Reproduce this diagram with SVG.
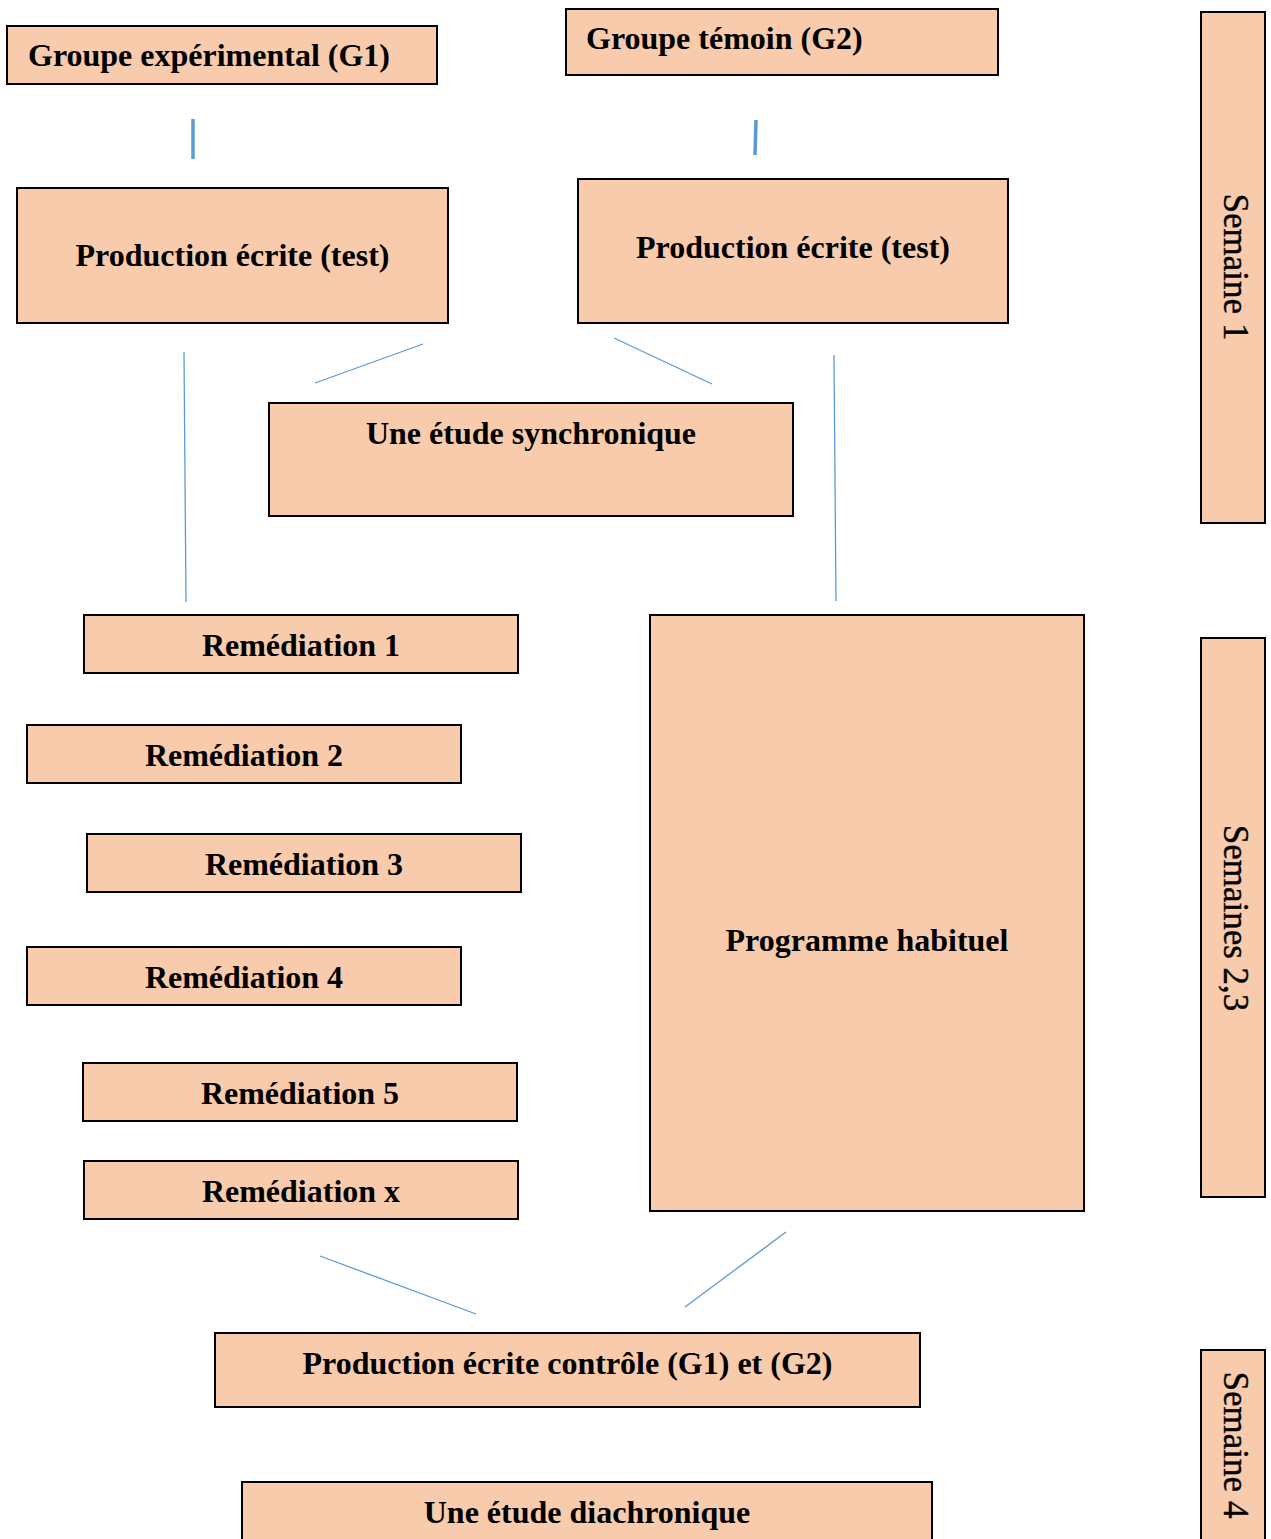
<svg xmlns="http://www.w3.org/2000/svg" width="1271" height="1539" viewBox="0 0 1271 1539">
<style>
.box{fill:#F7CBAC;stroke:#000;stroke-width:2}
.t{font-family:"Liberation Serif","Times New Roman",serif;font-weight:bold;font-size:32px;fill:#000}
.c{text-anchor:middle}
.v{font-family:"Liberation Serif","Times New Roman",serif;font-size:35px;fill:#000;text-anchor:middle;stroke:#000;stroke-width:0.4}
.ln{stroke:#5B9BD5;stroke-width:1.3;fill:none}
.lt{stroke:#5B9BD5;stroke-width:3.5;fill:none}
</style>
<rect width="1271" height="1539" fill="#fff"/>
<g id="connectors">
<line class="lt" x1="193" y1="119" x2="193" y2="159"/>
<line class="lt" x1="756" y1="120" x2="755" y2="155"/>
<line class="ln" x1="184" y1="352" x2="186" y2="602"/>
<line class="ln" x1="423" y1="344" x2="315" y2="383"/>
<line class="ln" x1="614" y1="338" x2="712" y2="384"/>
<line class="ln" x1="834" y1="355" x2="836" y2="601"/>
<line class="ln" x1="320" y1="1256" x2="476" y2="1314"/>
<line class="ln" x1="786" y1="1232" x2="685" y2="1307"/>
</g>
<g id="g1"><rect class="box" x="7" y="26" width="430" height="58"/><text class="t" x="28" y="66">Groupe expérimental (G1)</text></g>
<g id="g2"><rect class="box" x="566" y="9" width="432" height="66"/><text class="t" x="586" y="49">Groupe témoin (G2)</text></g>
<g id="test1"><rect class="box" x="17" y="188" width="431" height="135"/><text class="t c" x="232.5" y="266">Production écrite (test)</text></g>
<g id="test2"><rect class="box" x="578" y="179" width="430" height="144"/><text class="t c" x="793" y="258">Production écrite (test)</text></g>
<g id="synchro"><rect class="box" x="269" y="403" width="524" height="113"/><text class="t c" x="531" y="444">Une étude synchronique</text></g>
<g id="rem1"><rect class="box" x="84" y="615" width="434" height="58"/><text class="t c" x="301" y="656">Remédiation 1</text></g>
<g id="rem2"><rect class="box" x="27" y="725" width="434" height="58"/><text class="t c" x="244" y="766">Remédiation 2</text></g>
<g id="rem3"><rect class="box" x="87" y="834" width="434" height="58"/><text class="t c" x="304" y="875">Remédiation 3</text></g>
<g id="rem4"><rect class="box" x="27" y="947" width="434" height="58"/><text class="t c" x="244" y="988">Remédiation 4</text></g>
<g id="rem5"><rect class="box" x="83" y="1063" width="434" height="58"/><text class="t c" x="300" y="1104">Remédiation 5</text></g>
<g id="remx"><rect class="box" x="84" y="1161" width="434" height="58"/><text class="t c" x="301" y="1202">Remédiation x</text></g>
<g id="programme"><rect class="box" x="650" y="615" width="434" height="596"/><text class="t c" x="867" y="951">Programme habituel</text></g>
<g id="controle"><rect class="box" x="215" y="1333" width="705" height="74"/><text class="t c" x="567.5" y="1374">Production écrite contrôle (G1) et (G2)</text></g>
<g id="diachro"><rect class="box" x="242" y="1482" width="690" height="80"/><text class="t c" x="587" y="1523">Une étude diachronique</text></g>
<g id="sem1"><rect class="box" x="1201" y="12" width="64" height="511"/><text class="v" transform="translate(1224,267) rotate(90)">Semaine 1</text></g>
<g id="sem23"><rect class="box" x="1201" y="638" width="64" height="559"/><text class="v" transform="translate(1224,918) rotate(90)">Semaines 2,3</text></g>
<g id="sem4"><rect class="box" x="1201" y="1350" width="64" height="220"/><text class="v" transform="translate(1224,1445) rotate(90)">Semaine 4</text></g>
</svg>
